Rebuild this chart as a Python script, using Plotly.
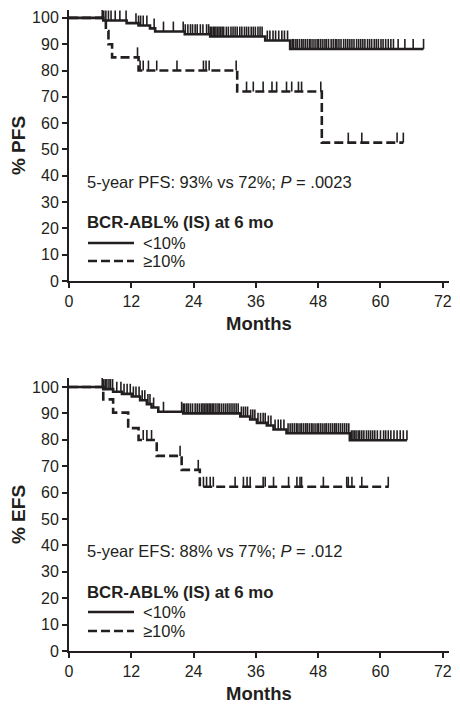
import plotly.graph_objects as go

# ---------------- data (months, %) ----------------
pfs_lt10_t = [0, 6.6, 11.1, 13.4, 15.6, 16.6, 22.3, 27.2, 37.8, 42.6, 68.3]
pfs_lt10_s = [100, 99.0, 98.0, 97.1, 96.0, 94.8, 93.8, 92.9, 91.4, 88.2, 88.2]
pfs_lt10_cens = [6.4, 6.7, 7.1, 7.6, 8.1, 8.9, 9.8, 11.0, 12.9, 13.4, 13.8, 14.3, 15.0, 16.4,
                 18.2, 20.1, 22.0, 22.4, 22.9, 23.4, 23.8, 24.3, 24.7, 25.3, 25.8, 26.5, 26.9,
                 27.2, 27.5, 27.8, 28.0, 28.3, 28.6, 28.9, 29.2, 29.5, 29.8, 30.3, 30.7, 31.2,
                 31.6, 32.0, 32.4, 32.9, 33.3, 33.8, 34.2, 34.6, 35.1, 35.5, 35.9, 36.4, 36.8,
                 37.2, 38.2, 38.7, 39.3, 39.8, 40.4, 41.0, 41.5, 42.1, 43.0, 43.3, 43.7, 44.0,
                 44.4, 44.8, 45.1, 45.5, 45.9, 46.3, 46.6, 47.0, 47.4, 47.8, 48.1, 48.5, 48.9,
                 49.3, 49.6, 50.0, 50.5, 50.9, 51.3, 51.6, 52.0, 52.4, 52.9, 53.3, 53.7, 54.1,
                 54.5, 54.9, 55.4, 55.8, 56.2, 56.6, 57.0, 57.5, 57.9, 58.3, 58.8, 59.2, 59.6,
                 60.1, 60.5, 61.0, 61.5, 62.0, 62.5, 63.4, 64.7, 66.3, 68.3]

pfs_ge10_t = [0, 7.1, 7.6, 8.3, 13.4, 32.4, 48.7, 64.4]
pfs_ge10_s = [100, 95.0, 90.0, 85.0, 80.0, 72.0, 52.6, 52.6]
pfs_ge10_cens = [13.2, 13.7, 14.3, 15.3, 16.9, 20.8, 25.9, 26.4, 27.0, 32.2, 34.2, 35.5,
                 37.4, 39.1, 40.0, 41.9, 42.9, 44.2, 44.8, 48.5, 53.8, 56.4, 63.2, 64.4]

efs_lt10_t = [0, 6.6, 8.5, 10.2, 12.1, 13.7, 15.0, 15.9, 17.2, 22.0, 33.0, 34.9, 36.2,
              38.1, 39.4, 41.9, 54.1, 65.1]
efs_lt10_s = [100, 99.2, 98.2, 97.4, 96.4, 95.0, 93.5, 92.2, 90.6, 90.0, 88.8, 87.7, 86.4,
              85.4, 83.9, 82.5, 79.8, 79.8]
efs_lt10_cens = [6.4, 6.7, 7.0, 7.3, 7.7, 8.0, 8.4, 9.2, 10.0, 10.6, 11.2, 11.8, 12.4, 12.9,
                 13.5, 14.1, 14.6, 15.2, 15.6, 16.3, 18.2, 21.7, 22.0, 22.3, 22.7, 23.0, 23.4,
                 23.8, 24.3, 24.7, 25.1, 25.5, 25.8, 26.1, 26.4, 26.7, 27.0, 27.3, 27.6, 27.9,
                 28.3, 28.7, 29.0, 29.4, 29.8, 30.2, 30.6, 31.0, 31.4, 31.8, 32.2, 32.6, 33.2,
                 33.6, 34.0, 34.4, 35.0, 35.4, 35.8, 36.4, 36.9, 37.4, 37.8, 38.4, 38.9, 39.7,
                 40.3, 40.8, 41.4, 42.2, 42.6, 43.0, 43.4, 43.8, 44.1, 44.5, 44.8, 45.2, 45.6,
                 45.9, 46.3, 46.7, 47.0, 47.4, 47.8, 48.1, 48.5, 48.9, 49.3, 49.6, 50.0, 50.4,
                 50.8, 51.2, 51.5, 51.9, 52.3, 52.7, 53.1, 53.5, 53.9, 54.4, 54.7, 55.0, 55.3,
                 55.7, 56.0, 56.4, 56.8, 57.3, 57.7, 58.1, 58.5, 58.9, 59.4, 60.0, 60.6, 61.0,
                 61.5, 62.0, 62.6, 63.2, 63.8, 64.4, 65.1]

efs_ge10_t = [0, 6.6, 8.5, 11.4, 13.4, 16.9, 21.7, 25.2, 61.6]
efs_ge10_s = [100, 95.3, 90.3, 84.4, 79.9, 73.9, 68.6, 62.2, 62.2]
efs_ge10_cens = [14.3, 15.0, 15.9, 21.4, 24.9, 25.9, 26.5, 27.2, 27.8, 32.0, 33.6, 34.3,
                 34.9, 37.4, 37.8, 39.4, 42.3, 43.9, 44.5, 44.8, 49.0, 53.5, 53.8, 54.5,
                 56.4, 61.5]

x_ticks = [0, 12, 24, 36, 48, 60, 72]
y_ticks = [0, 10, 20, 30, 40, 50, 60, 70, 80, 90, 100]
group_names = ["<10%", "≥10%"]
legend_title = "BCR-ABL% (IS) at 6 mo"
pfs_note = "5-year PFS: 93% vs 72%; <i>P</i> = .0023"
efs_note = "5-year EFS: 88% vs 77%; <i>P</i> = .012"

FONT = "Arial, Liberation Sans, sans-serif"
INK = "#231f20"
TICK_H = 3.8
DASH = "9px,4px"
W, H = 460, 710


def surv_at(times, surv, t):
    v = surv[0]
    for ti, si in zip(times, surv):
        if ti <= t:
            v = si
    return v


fig = go.Figure()


def add_group(t, s, cens, dash, name, xa, ya):
    fig.add_trace(go.Scatter(
        x=t, y=s, mode="lines", line=dict(shape="hv", color=INK, width=2.6, dash=dash),
        name=name, xaxis=xa, yaxis=ya, showlegend=False, hoverinfo="skip"))
    cy = [surv_at(t, s, c) for c in cens]
    fig.add_trace(go.Scatter(
        x=cens, y=cy, mode="markers", marker=dict(size=1, color="rgba(0,0,0,0)"),
        error_y=dict(type="constant", value=TICK_H, valueminus=0, symmetric=False,
                     color=INK, thickness=1.6, width=0),
        xaxis=xa, yaxis=ya, showlegend=False, hoverinfo="skip"))


add_group(pfs_lt10_t, pfs_lt10_s, pfs_lt10_cens, "solid", group_names[0], "x", "y")
add_group(pfs_ge10_t, pfs_ge10_s, pfs_ge10_cens, DASH, group_names[1], "x", "y")
add_group(efs_lt10_t, efs_lt10_s, efs_lt10_cens, "solid", group_names[0], "x2", "y2")
add_group(efs_ge10_t, efs_ge10_s, efs_ge10_cens, DASH, group_names[1], "x2", "y2")

xdom = [69 / W, 449 / W]
top_dom = [(H - 281) / H, (H - 10) / H]
bot_dom = [(H - 651) / H, (H - 378) / H]

axis_common = dict(showline=True, linecolor=INK, linewidth=2, ticks="outside", ticklen=5,
                   tickwidth=2, tickcolor=INK, showgrid=False, zeroline=False, automargin=False,
                   tickfont=dict(family=FONT, size=16, color=INK))
xcommon = dict(axis_common, range=[0, 73.2], tickvals=x_ticks,
               title=dict(text="<b>Months</b>", font=dict(family=FONT, size=18.5, color=INK), standoff=8))

fig.update_layout(
    width=W, height=H, margin=dict(l=0, r=0, t=0, b=0, autoexpand=False),
    paper_bgcolor="white", plot_bgcolor="white",
    font=dict(family=FONT, color=INK),
    xaxis=dict(xcommon, domain=xdom, anchor="y"),
    yaxis=dict(axis_common, domain=top_dom, range=[0, 103], tickvals=y_ticks, anchor="x",
               title=dict(text="<b>% PFS</b>", font=dict(family=FONT, size=19, color=INK), standoff=1)),
    xaxis2=dict(xcommon, domain=xdom, anchor="y2"),
    yaxis2=dict(axis_common, domain=bot_dom, range=[0, 103.4], tickvals=y_ticks, anchor="x2",
                title=dict(text="<b>% EFS</b>", font=dict(family=FONT, size=19, color=INK), standoff=1)),
)

# legend blocks and notes (paper coordinates, in pixels from top)
blocks = [(pfs_note, 182, 222, 243, 261), (efs_note, 551, 592, 612, 631)]
for note, y_note, y_title, y_a, y_b in blocks:
    fig.add_annotation(text=note, x=85 / W, y=(H - y_note) / H, xref="paper", yref="paper",
                       xanchor="left", yanchor="middle", showarrow=False,
                       font=dict(family=FONT, size=16.5, color=INK))
    fig.add_annotation(text="<b>" + legend_title + "</b>", x=85 / W, y=(H - y_title) / H,
                       xref="paper", yref="paper", xanchor="left", yanchor="middle",
                       showarrow=False, font=dict(family=FONT, size=16.8, color=INK))
    for name, yy, dash in [(group_names[0], y_a, "solid"), (group_names[1], y_b, DASH)]:
        fig.add_shape(type="line", xref="paper", yref="paper", x0=88 / W, x1=134 / W,
                      y0=(H - yy) / H, y1=(H - yy) / H, line=dict(color=INK, width=2.6, dash=dash))
        fig.add_annotation(text=name, x=141 / W, y=(H - yy) / H, xref="paper", yref="paper",
                           xanchor="left", yanchor="middle", showarrow=False,
                           font=dict(family=FONT, size=16.5, color=INK))

fig.write_html("out.html", config={"displayModeBar": False},
               post_script="document.body.style.margin='0';document.body.style.overflow='hidden';")
